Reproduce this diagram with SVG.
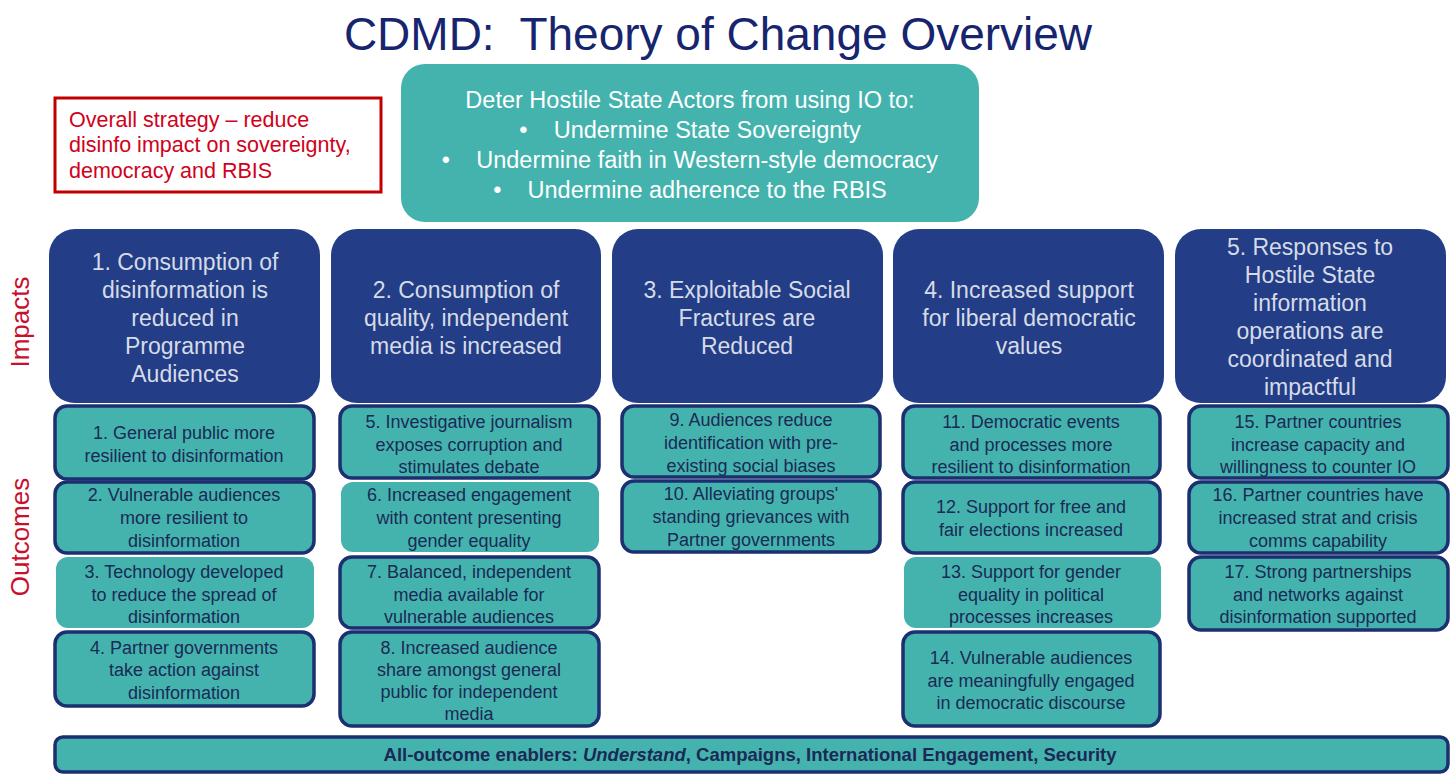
<svg xmlns="http://www.w3.org/2000/svg" width="1456" height="784" viewBox="0 0 1456 784">
<style>
text{font-family:"Liberation Sans",Arial,sans-serif}
.title{font-size:46px;fill:#16256e}
.side{font-size:26px;fill:#c8102e}
.red{font-size:21.5px;fill:#d0021b}
.top{font-size:23.5px;fill:#ffffff}
.imp{font-size:23px;fill:#d6dbe8;text-anchor:middle}
.out{font-size:18px;fill:#1b2a55;text-anchor:middle}
.impbox{fill:#233e86}
.teal{fill:#44b3ae}
.ob{fill:#44b3ae;stroke:#1c2f70;stroke-width:3.5}
.onb{fill:#44b3ae}
.en{font-size:18.5px;fill:#1b2a55;font-weight:bold;text-anchor:middle}
</style>
<rect width="1456" height="784" fill="#ffffff"/>
<text class="title" x="718" y="50" text-anchor="middle" xml:space="preserve">CDMD:  Theory of Change Overview</text>

<g id="strategy">
<rect x="55" y="98" width="326" height="94" fill="#ffffff" stroke="#c00000" stroke-width="3"/>
<text class="red" x="69" y="127">Overall strategy – reduce</text>
<text class="red" x="69" y="152">disinfo impact on sovereignty,</text>
<text class="red" x="69" y="178">democracy and RBIS</text>
</g>

<g id="goal">
<rect class="teal" x="401" y="64" width="578" height="158" rx="24"/>
<text class="top" x="690" y="108" text-anchor="middle">Deter Hostile State Actors from using IO to:</text>
<text class="top" x="690" y="138" text-anchor="middle" xml:space="preserve">•    Undermine State Sovereignty</text>
<text class="top" x="690" y="168" text-anchor="middle" xml:space="preserve">•    Undermine faith in Western-style democracy</text>
<text class="top" x="690" y="198" text-anchor="middle" xml:space="preserve">•    Undermine adherence to the RBIS</text>
</g>

<g id="labels">
<text class="side" transform="translate(29,322) rotate(-90)" text-anchor="middle">Impacts</text>
<text class="side" transform="translate(29,537) rotate(-90)" text-anchor="middle">Outcomes</text>
</g>

<g id="impact1">
<rect class="impbox" x="49" y="229" width="271" height="174" rx="26"/>
<text class="imp" x="185" y="270">1. Consumption of</text>
<text class="imp" x="185" y="298">disinformation is</text>
<text class="imp" x="185" y="326">reduced in</text>
<text class="imp" x="185" y="354">Programme</text>
<text class="imp" x="185" y="382">Audiences</text>
</g>
<g id="impact2">
<rect class="impbox" x="331" y="229" width="270" height="174" rx="26"/>
<text class="imp" x="466" y="298">2. Consumption of</text>
<text class="imp" x="466" y="326">quality, independent</text>
<text class="imp" x="466" y="354">media is increased</text>
</g>
<g id="impact3">
<rect class="impbox" x="612" y="229" width="271" height="174" rx="26"/>
<text class="imp" x="747" y="298">3. Exploitable Social</text>
<text class="imp" x="747" y="326">Fractures are</text>
<text class="imp" x="747" y="354">Reduced</text>
</g>
<g id="impact4">
<rect class="impbox" x="893" y="229" width="271" height="174" rx="26"/>
<text class="imp" x="1029" y="298">4. Increased support</text>
<text class="imp" x="1029" y="326">for liberal democratic</text>
<text class="imp" x="1029" y="354">values</text>
</g>
<g id="impact5">
<rect class="impbox" x="1175" y="229" width="271" height="174" rx="26"/>
<text class="imp" x="1310" y="255">5. Responses to</text>
<text class="imp" x="1310" y="283">Hostile State</text>
<text class="imp" x="1310" y="311">information</text>
<text class="imp" x="1310" y="339">operations are</text>
<text class="imp" x="1310" y="367">coordinated and</text>
<text class="imp" x="1310" y="395">impactful</text>
</g>

<g id="outcome1">
<rect class="ob" x="55" y="406" width="259" height="73" rx="12"/>
<text class="out" x="184" y="439">1. General public more</text>
<text class="out" x="184" y="462">resilient to disinformation</text>
</g>
<g id="outcome2">
<rect class="ob" x="55" y="482" width="259" height="71" rx="12"/>
<text class="out" x="184" y="501">2. Vulnerable audiences</text>
<text class="out" x="184" y="524">more resilient to</text>
<text class="out" x="184" y="547">disinformation</text>
</g>
<g id="outcome3">
<rect class="onb" x="56" y="557" width="258" height="71" rx="12"/>
<text class="out" x="184" y="578">3. Technology developed</text>
<text class="out" x="184" y="601">to reduce the spread of</text>
<text class="out" x="184" y="623">disinformation</text>
</g>
<g id="outcome4">
<rect class="ob" x="55" y="632" width="259" height="74" rx="12"/>
<text class="out" x="184" y="654">4. Partner governments</text>
<text class="out" x="184" y="676">take action against</text>
<text class="out" x="184" y="699">disinformation</text>
</g>

<g id="outcome5">
<rect class="ob" x="340" y="406" width="259" height="72" rx="12"/>
<text class="out" x="469" y="428">5. Investigative journalism</text>
<text class="out" x="469" y="451">exposes corruption and</text>
<text class="out" x="469" y="473">stimulates debate</text>
</g>
<g id="outcome6">
<rect class="onb" x="341" y="482" width="258" height="70" rx="12"/>
<text class="out" x="469" y="501">6. Increased engagement</text>
<text class="out" x="469" y="524">with content presenting</text>
<text class="out" x="469" y="547">gender equality</text>
</g>
<g id="outcome7">
<rect class="ob" x="340" y="557" width="259" height="71" rx="12"/>
<text class="out" x="469" y="578">7. Balanced, independent</text>
<text class="out" x="469" y="601">media available for</text>
<text class="out" x="469" y="623">vulnerable audiences</text>
</g>
<g id="outcome8">
<rect class="ob" x="340" y="632" width="259" height="94" rx="12"/>
<text class="out" x="469" y="654">8. Increased audience</text>
<text class="out" x="469" y="676">share amongst general</text>
<text class="out" x="469" y="698">public for independent</text>
<text class="out" x="469" y="720">media</text>
</g>

<g id="outcome9">
<rect class="ob" x="622" y="406" width="258" height="71" rx="12"/>
<text class="out" x="751" y="426">9. Audiences reduce</text>
<text class="out" x="751" y="449">identification with pre-</text>
<text class="out" x="751" y="472">existing social biases</text>
</g>
<g id="outcome10">
<rect class="ob" x="622" y="481" width="258" height="71" rx="12"/>
<text class="out" x="751" y="500">10. Alleviating groups'</text>
<text class="out" x="751" y="523">standing grievances with</text>
<text class="out" x="751" y="546">Partner governments</text>
</g>

<g id="outcome11">
<rect class="ob" x="903" y="406" width="257" height="72" rx="12"/>
<text class="out" x="1031" y="428">11. Democratic events</text>
<text class="out" x="1031" y="451">and processes more</text>
<text class="out" x="1031" y="473">resilient to disinformation</text>
</g>
<g id="outcome12">
<rect class="ob" x="903" y="482" width="257" height="71" rx="12"/>
<text class="out" x="1031" y="513">12. Support for free and</text>
<text class="out" x="1031" y="536">fair elections increased</text>
</g>
<g id="outcome13">
<rect class="onb" x="904" y="557" width="257" height="71" rx="12"/>
<text class="out" x="1031" y="578">13. Support for gender</text>
<text class="out" x="1031" y="601">equality in political</text>
<text class="out" x="1031" y="623">processes increases</text>
</g>
<g id="outcome14">
<rect class="ob" x="903" y="632" width="257" height="94" rx="12"/>
<text class="out" x="1031" y="664">14. Vulnerable audiences</text>
<text class="out" x="1031" y="687">are meaningfully engaged</text>
<text class="out" x="1031" y="709">in democratic discourse</text>
</g>

<g id="outcome15">
<rect class="ob" x="1189" y="406" width="259" height="72" rx="12"/>
<text class="out" x="1318" y="428">15. Partner countries</text>
<text class="out" x="1318" y="451">increase capacity and</text>
<text class="out" x="1318" y="473">willingness to counter IO</text>
</g>
<g id="outcome16">
<rect class="ob" x="1189" y="482" width="259" height="71" rx="12"/>
<text class="out" x="1318" y="501">16. Partner countries have</text>
<text class="out" x="1318" y="524">increased strat and crisis</text>
<text class="out" x="1318" y="547">comms capability</text>
</g>
<g id="outcome17">
<rect class="ob" x="1189" y="557" width="259" height="73" rx="12"/>
<text class="out" x="1318" y="578">17. Strong partnerships</text>
<text class="out" x="1318" y="601">and networks against</text>
<text class="out" x="1318" y="623">disinformation supported</text>
</g>

<g id="enablers">
<rect class="ob" x="55" y="737" width="1393" height="35" rx="8"/>
<text class="en" x="750" y="761">All-outcome enablers: <tspan font-style="italic">Understand</tspan>, Campaigns, International Engagement, Security</text>
</g>

<g id="connectors"></g>
</svg>
